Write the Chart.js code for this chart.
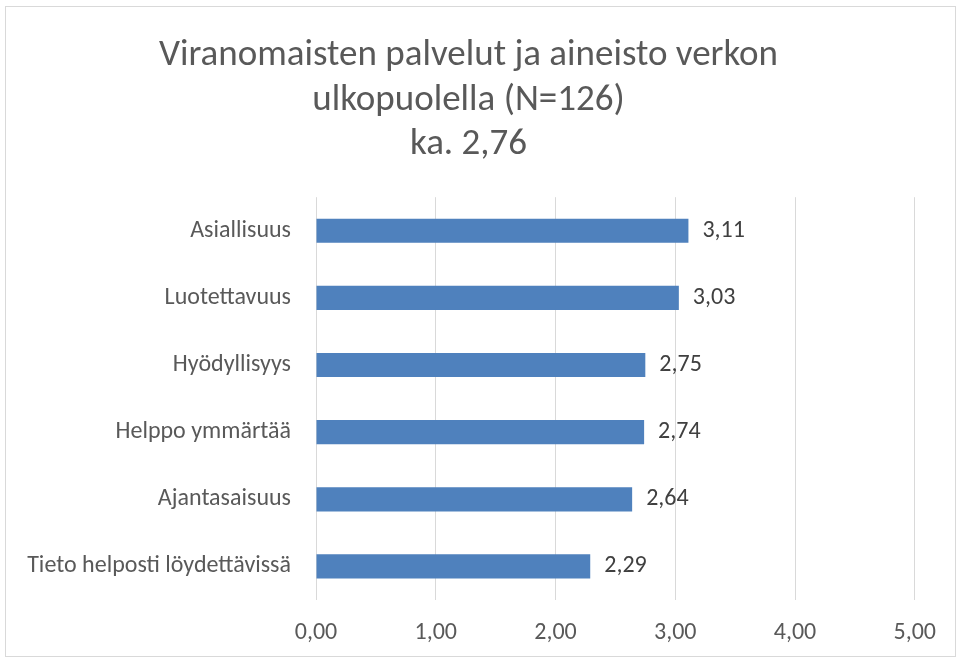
<!DOCTYPE html>
<html>
<head>
<meta charset="utf-8">
<script src="https://cdn.jsdelivr.net/npm/chart.js@4"></script>
<style>
  body { margin: 0; background: #fff; }
  #wrap { position: absolute; left: 5px; top: 6px; width: 949px; height: 649px; border: 1px solid #d9d9d9; }
</style>
</head>
<body>
<div id="wrap"><canvas id="chart" width="949" height="649"></canvas></div>
<script>
  // Data
  const categories = ['Asiallisuus', 'Luotettavuus', 'Hyödyllisyys', 'Helppo ymmärtää', 'Ajantasaisuus', 'Tieto helposti löydettävissä'];
  const values = [3.11, 3.03, 2.75, 2.74, 2.64, 2.29];
  const titleLines = ['Viranomaisten palvelut ja aineisto verkon', 'ulkopuolella (N=126)', 'ka. 2,76'];

  const FONT = "Carlito, 'Liberation Sans Narrow', 'Open Sans', sans-serif";
  const fmt = v => v.toFixed(2).replace('.', ',');

  // value labels to the right of each bar
  const valueLabels = {
    id: 'valueLabels',
    afterDatasetsDraw(chart) {
      const ctx = chart.ctx;
      const meta = chart.getDatasetMeta(0);
      ctx.save();
      ctx.font = '24px ' + FONT;
      ctx.fillStyle = '#404040';
      ctx.textBaseline = 'middle';
      meta.data.forEach((bar, i) => {
        ctx.fillText(fmt(values[i]), bar.x + 14, bar.y);
      });
      ctx.restore();
    }
  };

  new Chart(document.getElementById('chart'), {
    type: 'bar',
    data: {
      labels: categories,
      datasets: [{
        data: values,
        backgroundColor: '#4f81bd',
        borderWidth: 0,
        categoryPercentage: 1,
        barPercentage: 0.36
      }]
    },
    plugins: [valueLabels],
    options: {
      indexAxis: 'y',
      responsive: false,
      animation: false,
      layout: { padding: { left: 10, right: 34, top: 0, bottom: 0 } },
      scales: {
        x: {
          min: 0,
          max: 5,
          afterFit: s => { s.height = 56; },
          ticks: {
            stepSize: 1,
            callback: v => fmt(v),
            color: '#595959',
            font: { family: FONT, size: 24 },
            padding: 19
          },
          grid: { color: '#d9d9d9', drawTicks: false },
          border: { display: false }
        },
        y: {
          afterFit: s => { s.width = 300; },
          ticks: {
            color: '#595959',
            font: { family: FONT, size: 24 },
            padding: 17
          },
          grid: { display: false },
          border: { display: false }
        }
      },
      plugins: {
        legend: { display: false },
        tooltip: { enabled: false },
        title: {
          display: true,
          text: titleLines,
          color: '#595959',
          font: { family: FONT, size: 37, weight: 'normal', lineHeight: 1.2 },
          padding: { top: 27, bottom: 30 }
        }
      }
    }
  });
</script>
</body>
</html>
